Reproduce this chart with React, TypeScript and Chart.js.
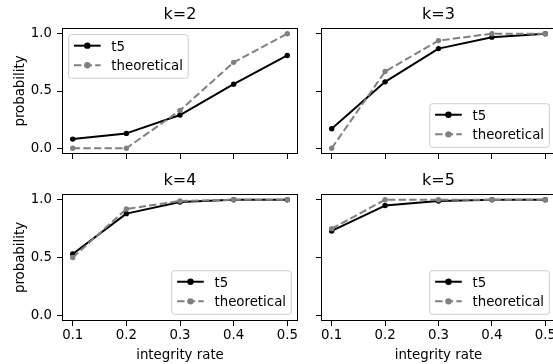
import { useEffect, useRef } from 'react';
import { Chart, registerables } from 'chart.js';

Chart.register(...registerables);

// ---- data ----
const xValues = [0.1, 0.2, 0.3, 0.4, 0.5];
const xTickValues = [0.1, 0.2, 0.3, 0.4, 0.5];
const yTickValues = [0.0, 0.5, 1.0];
const seriesLabels = ['t5', 'theoretical'];
const panelTitles = ['k=2', 'k=3', 'k=4', 'k=5'];
const xAxisLabel = 'integrity rate';
const yAxisLabel = 'probability';

const k2T5 = [0.08, 0.13, 0.29, 0.56, 0.81];
const k2Theoretical = [0.0, 0.0, 0.33, 0.75, 1.0];
const k3T5 = [0.17, 0.58, 0.87, 0.97, 1.0];
const k3Theoretical = [0.0, 0.67, 0.94, 1.0, 1.0];
const k4T5 = [0.53, 0.88, 0.98, 1.0, 1.0];
const k4Theoretical = [0.5, 0.92, 0.99, 1.0, 1.0];
const k5T5 = [0.73, 0.95, 0.99, 1.0, 1.0];
const k5Theoretical = [0.75, 1.0, 1.0, 1.0, 1.0];

// ---- styles ----
const FONT = "'DejaVu Sans', sans-serif";
const GREY = '#808080';
const DASH = [7.4, 3.2];

const mplPlugin = {
  id: 'mplFrame',
  afterDraw(chart: any, _args: any, opts: any) {
    const { ctx, chartArea: a } = chart;
    ctx.save();
    // spines
    ctx.strokeStyle = '#000';
    ctx.lineWidth = 1;
    ctx.setLineDash([]);
    ctx.strokeRect(a.left + 0.5, a.top + 0.5, a.right - a.left - 1, a.bottom - a.top - 1);

    // legend
    const fs = 13.33;
    ctx.font = `${fs}px ${FONT}`;
    const ds = chart.data.datasets;
    let tw = 0;
    ds.forEach((d: any) => { tw = Math.max(tw, ctx.measureText(d.label).width); });
    const pad = 6.67, bpad = 5.33, hl = 26.67, htp = 10.67;
    const w = bpad + hl + htp + tw + bpad;
    const h = 43.6;
    let x0: number, y0: number;
    if (opts.loc === 'ul') { x0 = a.left + pad; y0 = a.top + pad; }
    else { x0 = a.right - pad - w; y0 = a.bottom - pad - h; }
    const r = 2.67;
    ctx.beginPath();
    ctx.moveTo(x0 + r, y0);
    ctx.lineTo(x0 + w - r, y0);
    ctx.quadraticCurveTo(x0 + w, y0, x0 + w, y0 + r);
    ctx.lineTo(x0 + w, y0 + h - r);
    ctx.quadraticCurveTo(x0 + w, y0 + h, x0 + w - r, y0 + h);
    ctx.lineTo(x0 + r, y0 + h);
    ctx.quadraticCurveTo(x0, y0 + h, x0, y0 + h - r);
    ctx.lineTo(x0, y0 + r);
    ctx.quadraticCurveTo(x0, y0, x0 + r, y0);
    ctx.closePath();
    ctx.fillStyle = 'rgba(255,255,255,0.8)';
    ctx.fill();
    ctx.strokeStyle = '#cccccc';
    ctx.lineWidth = 1;
    ctx.stroke();

    const rows = [11, 30.6];
    ds.forEach((d: any, i: number) => {
      const yc = y0 + rows[i];
      const hx0 = x0 + bpad, hx1 = hx0 + hl;
      ctx.strokeStyle = d.borderColor;
      ctx.lineWidth = d.borderWidth;
      ctx.setLineDash(d.borderDash || []);
      ctx.beginPath();
      ctx.moveTo(hx0, yc);
      ctx.lineTo(hx1, yc);
      ctx.stroke();
      ctx.setLineDash([]);
      ctx.fillStyle = d.borderColor;
      ctx.beginPath();
      ctx.arc((hx0 + hx1) / 2, yc, d.pointRadius + 0.5, 0, Math.PI * 2);
      ctx.fill();
      ctx.fillStyle = '#000';
      ctx.textAlign = 'left';
      ctx.textBaseline = 'alphabetic';
      ctx.fillText(d.label, hx1 + htp, yc + 4.86);
    });
    ctx.restore();
  },
};

type PanelProps = {
  title: string;
  t5: number[];
  theo: number[];
  row: number;
  col: number;
  legendLoc: string;
};

function Panel({ title, t5, theo, row, col, legendLoc }: PanelProps) {
  const ref = useRef<HTMLCanvasElement | null>(null);
  const isBottom = row === 1;
  const isLeft = col === 0;
  const left = isLeft ? 0 : 316;
  const top = isBottom ? 166 : 0;
  const width = isLeft ? 298 : 240;
  const height = isBottom ? 198 : 159;

  useEffect(() => {
    if (!ref.current) return;
    const chart = new Chart(ref.current, {
      type: 'line',
      data: {
        datasets: [
          {
            label: seriesLabels[0],
            data: xValues.map((x, i) => ({ x, y: t5[i] })),
            borderColor: '#000',
            backgroundColor: '#000',
            borderWidth: 2,
            pointRadius: 2.7,
            pointHoverRadius: 2.7,
            pointBorderWidth: 0,
            pointBackgroundColor: '#000',
            borderJoinStyle: 'round',
            order: 1,
          },
          {
            label: seriesLabels[1],
            data: xValues.map((x, i) => ({ x, y: theo[i] })),
            borderColor: GREY,
            backgroundColor: GREY,
            borderWidth: 2,
            borderDash: DASH,
            pointRadius: 2.7,
            pointHoverRadius: 2.7,
            pointBorderWidth: 0,
            pointBackgroundColor: GREY,
            borderJoinStyle: 'round',
            order: 0,
          },
        ],
      } as any,
      options: {
        animation: false,
        responsive: false,
        devicePixelRatio: 1,
        events: [],
        layout: { padding: 0, autoPadding: false },
        plugins: {
          legend: { display: false },
          tooltip: { enabled: false },
          title: {
            display: true,
            text: title,
            color: '#000',
            fullSize: false,
            font: { family: FONT, size: 16, weight: 'normal' },
            padding: { top: 5.4, bottom: 3.4 },
          },
          mplFrame: { loc: legendLoc },
        } as any,
        scales: {
          x: {
            type: 'linear',
            position: 'bottom',
            min: 0.08,
            max: 0.52,
            bounds: 'data',
            afterBuildTicks: (s: any) => {
              s.ticks = xTickValues.map((v) => ({ value: v }));
            },
            afterFit: (s: any) => {
              s.height = isBottom ? 43 : 5;
              s.paddingLeft = 0; s.paddingRight = 0; s.paddingTop = 0; s.paddingBottom = 0;
            },
            ticks: {
              display: isBottom,
              padding: 2,
              color: '#000',
              autoSkip: false,
              maxRotation: 0,
              font: { family: FONT, size: 13.33 },
              callback: (v: any) => Number(v).toFixed(1),
            },
            grid: { drawOnChartArea: false, drawTicks: true, tickLength: 5, tickColor: '#000', color: '#000', lineWidth: 1 },
            border: { display: false },
            title: {
              display: isBottom,
              text: xAxisLabel,
              color: '#000',
              font: { family: FONT, size: 13.33 },
              padding: { top: 0, bottom: 0 },
            },
          },
          y: {
            type: 'linear',
            position: 'left',
            min: -0.05,
            max: 1.05,
            bounds: 'data',
            afterBuildTicks: (s: any) => {
              s.ticks = yTickValues.map((v) => ({ value: v }));
            },
            afterFit: (s: any) => {
              s.width = isLeft ? 62 : 5;
              s.paddingLeft = 0; s.paddingRight = 0; s.paddingTop = 0; s.paddingBottom = 0;
            },
            ticks: {
              display: isLeft,
              padding: 5,
              color: '#000',
              autoSkip: false,
              font: { family: FONT, size: 13.33 },
              callback: (v: any) => Number(v).toFixed(1),
            },
            grid: { drawOnChartArea: false, drawTicks: true, tickLength: 5, tickColor: '#000', color: '#000', lineWidth: 1 },
            border: { display: false },
            title: {
              display: isLeft,
              text: yAxisLabel,
              color: '#000',
              font: { family: FONT, size: 13.33 },
              padding: { top: 12.4, bottom: 0 },
            },
          },
        },
      } as any,
      plugins: [mplPlugin as any],
    });
    return () => chart.destroy();
  }, [title, t5, theo, row, col, legendLoc]);

  return (
    <canvas
      ref={ref}
      width={width}
      height={height}
      style={{ position: 'absolute', left, top, width, height }}
    />
  );
}

export default function App() {
  return (
    <div
      style={{
        position: 'absolute',
        left: 0,
        top: 0,
        width: 553,
        height: 364,
        overflow: 'hidden',
        background: '#fff',
      }}
    >
      <Panel title={panelTitles[0]} t5={k2T5} theo={k2Theoretical} row={0} col={0} legendLoc="ul" />
      <Panel title={panelTitles[1]} t5={k3T5} theo={k3Theoretical} row={0} col={1} legendLoc="lr" />
      <Panel title={panelTitles[2]} t5={k4T5} theo={k4Theoretical} row={1} col={0} legendLoc="lr" />
      <Panel title={panelTitles[3]} t5={k5T5} theo={k5Theoretical} row={1} col={1} legendLoc="lr" />
    </div>
  );
}
